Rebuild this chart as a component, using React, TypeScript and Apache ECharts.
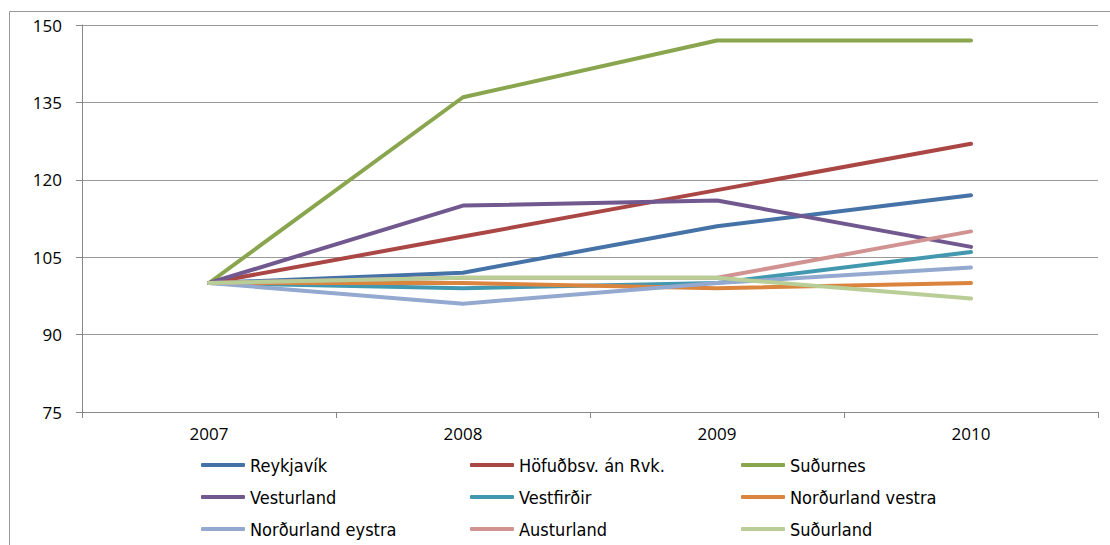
import React, { useEffect, useRef } from "react";
import * as echarts from "echarts";

const years = ["2007", "2008", "2009", "2010"];
const regions = [
  "Reykjavík",
  "Höfuðbsv. án Rvk.",
  "Suðurnes",
  "Vesturland",
  "Vestfirðir",
  "Norðurland vestra",
  "Norðurland eystra",
  "Austurland",
  "Suðurland",
];
const reykjavik = [100, 102, 111, 117];
const hofudbsv = [100, 109, 118, 127];
const sudurnes = [100, 136, 147, 147];
const vesturland = [100, 115, 116, 107];
const vestfirdir = [100, 99, 100, 106];
const nordurlandVestra = [100, 100, 99, 100];
const nordurlandEystra = [100, 96, 100, 103];
const austurland = [100, 101, 101, 110];
const sudurland = [100, 101, 101, 97];
const seriesValues = [
  reykjavik,
  hofudbsv,
  sudurnes,
  vesturland,
  vestfirdir,
  nordurlandVestra,
  nordurlandEystra,
  austurland,
  sudurland,
];
const colors = [
  "#4572A7",
  "#AA4643",
  "#89A54E",
  "#71588F",
  "#4198AF",
  "#DB843D",
  "#93A9CF",
  "#D19392",
  "#B9CD96",
];
const yTicks = [75, 90, 105, 120, 135, 150];

export default function App() {
  const ref = useRef<HTMLDivElement>(null);
  useEffect(() => {
    const chart = echarts.init(ref.current!, null, { renderer: "svg" });
    const legendFont = {
      fontFamily: "'Liberation Sans Narrow', 'Arial Narrow', 'DejaVu Sans Condensed', sans-serif",
      fontSize: 18,
      color: "#000",
    };
    const mkLegend = (names: string[], left: number) => ({
      orient: "vertical",
      left,
      top: 456,
      padding: 0,
      itemWidth: 44,
      itemHeight: 4,
      itemGap: 14,
      icon: "roundRect",
      data: names,
      textStyle: legendFont,
    });
    chart.setOption({
      animation: false,
      color: colors,
      graphic: [
        {
          type: "rect",
          shape: { x: 9.5, y: 11.5, width: 1120, height: 560 },
          style: { fill: "none", stroke: "#999", lineWidth: 1 },
          silent: true,
        },
      ],
      grid: { left: 82, right: 12, top: 25, bottom: 133 },
      legend: [
        mkLegend([regions[0], regions[3], regions[6]], 201),
        mkLegend([regions[1], regions[4], regions[7]], 470),
        mkLegend([regions[2], regions[5], regions[8]], 741),
      ],
      xAxis: {
        type: "category",
        data: years,
        boundaryGap: true,
        axisLine: { lineStyle: { color: "#888", width: 1 } },
        axisTick: { show: true, length: 6, lineStyle: { color: "#888" } },
        axisLabel: {
          color: "#000",
          fontSize: 17,
          fontFamily: "'Open Sans', sans-serif",
          margin: 13,
        },
      },
      yAxis: {
        type: "value",
        min: yTicks[0],
        max: yTicks[yTicks.length - 1],
        interval: 15,
        axisLine: { show: true, lineStyle: { color: "#888", width: 1 } },
        axisTick: { show: true, length: 6, lineStyle: { color: "#888" } },
        splitLine: { lineStyle: { color: "#999", width: 1 } },
        axisLabel: {
          color: "#000",
          fontSize: 17,
          fontFamily: "'Open Sans', sans-serif",
          margin: 20,
        },
      },
      series: regions.map((name, i) => ({
        name,
        type: "line",
        data: seriesValues[i],
        symbol: "none",
        lineStyle: { width: 4, color: colors[i], cap: "round", join: "round" },
        itemStyle: { color: colors[i] },
      })),
    });
    return () => chart.dispose();
  }, []);
  return (
    <div
      ref={ref}
      style={{ position: "fixed", left: 0, top: 0, width: 1110, height: 545, background: "#fff" }}
    />
  );
}
